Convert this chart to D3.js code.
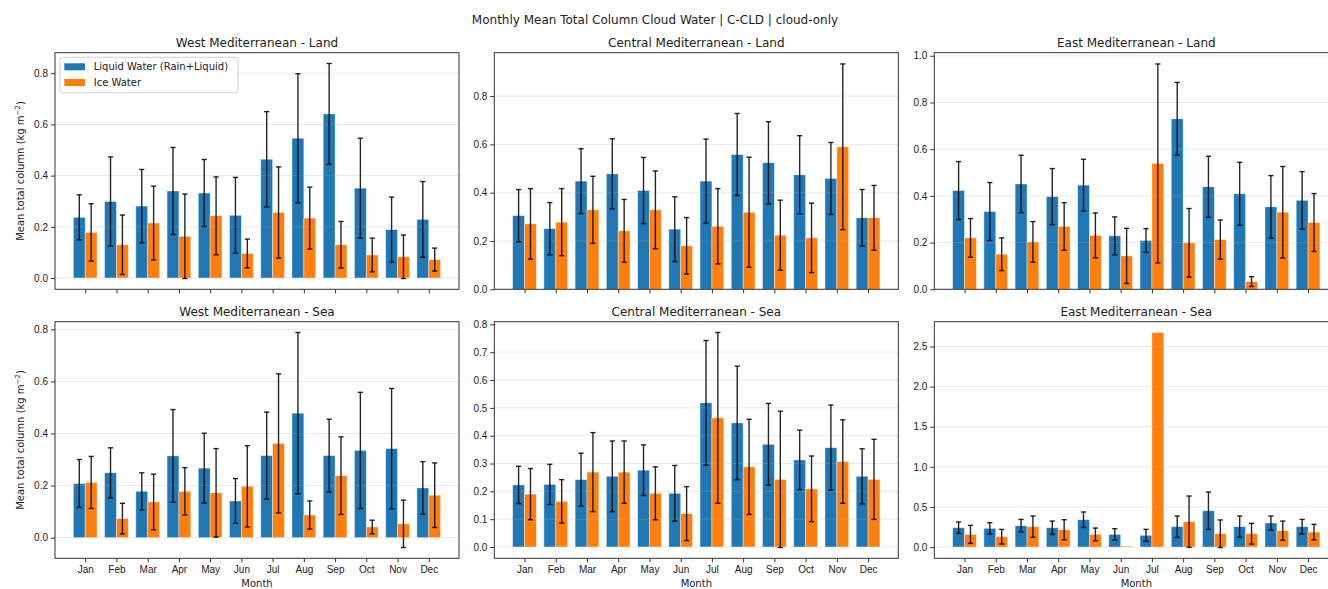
<!DOCTYPE html>
<html lang="en">
<head>
  <meta charset="UTF-8">
  <title>Monthly Mean Total Column Cloud Water</title>
  <script src="https://d3js.org/d3.v7.min.js"></script>
  <style>
    body { margin: 0; background: #fff; }
    svg { display: block; font-family: "DejaVu Sans", sans-serif; }
    .tick text { font-size: 10px; fill: #222; }
    .panel-title { font-size: 12px; fill: #222; }
  </style>
</head>
<body>
  <div id="chart"></div>

  <script>
    const months = ["Jan", "Feb", "Mar", "Apr", "May", "Jun", "Jul", "Aug", "Sep", "Oct", "Nov", "Dec"];
    const seriesNames = ["Liquid Water (Rain+Liquid)", "Ice Water"];

    // West Mediterranean - Land
    const westLandLiquid = [0.237, 0.299, 0.281, 0.340, 0.332, 0.245, 0.464, 0.546, 0.641, 0.351, 0.189, 0.229];
    const westLandLiquidErr = [0.088, 0.174, 0.143, 0.170, 0.131, 0.148, 0.186, 0.252, 0.197, 0.195, 0.127, 0.148];
    const westLandIce = [0.178, 0.130, 0.215, 0.163, 0.243, 0.096, 0.256, 0.234, 0.130, 0.090, 0.083, 0.072];
    const westLandIceErr = [0.112, 0.116, 0.144, 0.165, 0.152, 0.056, 0.178, 0.121, 0.091, 0.066, 0.085, 0.045];

    // Central Mediterranean - Land
    const centralLandLiquid = [0.305, 0.251, 0.448, 0.478, 0.409, 0.249, 0.448, 0.558, 0.524, 0.474, 0.459, 0.296];
    const centralLandLiquidErr = [0.108, 0.108, 0.134, 0.145, 0.137, 0.134, 0.174, 0.170, 0.170, 0.162, 0.149, 0.117];
    const centralLandIce = [0.271, 0.278, 0.329, 0.242, 0.329, 0.180, 0.261, 0.319, 0.224, 0.213, 0.590, 0.296];
    const centralLandIceErr = [0.146, 0.139, 0.139, 0.130, 0.161, 0.117, 0.156, 0.228, 0.145, 0.144, 0.343, 0.134];

    // East Mediterranean - Land
    const eastLandLiquid = [0.423, 0.333, 0.451, 0.397, 0.446, 0.229, 0.209, 0.730, 0.439, 0.409, 0.353, 0.381];
    const eastLandLiquidErr = [0.124, 0.124, 0.123, 0.120, 0.111, 0.081, 0.051, 0.156, 0.131, 0.135, 0.134, 0.123];
    const eastLandIce = [0.220, 0.150, 0.203, 0.269, 0.231, 0.143, 0.539, 0.199, 0.213, 0.033, 0.330, 0.286];
    const eastLandIceErr = [0.083, 0.070, 0.087, 0.102, 0.096, 0.118, 0.426, 0.147, 0.084, 0.021, 0.196, 0.124];

    // West Mediterranean - Sea
    const westSeaLiquid = [0.208, 0.249, 0.178, 0.314, 0.267, 0.141, 0.315, 0.478, 0.315, 0.335, 0.342, 0.191];
    const westSeaLiquidErr = [0.092, 0.096, 0.071, 0.178, 0.134, 0.086, 0.167, 0.310, 0.140, 0.223, 0.231, 0.101];
    const westSeaIce = [0.212, 0.073, 0.137, 0.178, 0.172, 0.197, 0.362, 0.087, 0.238, 0.041, 0.053, 0.163];
    const westSeaIceErr = [0.100, 0.059, 0.107, 0.091, 0.170, 0.156, 0.267, 0.054, 0.149, 0.026, 0.091, 0.124];

    // Central Mediterranean - Sea
    const centralSeaLiquid = [0.223, 0.225, 0.242, 0.254, 0.276, 0.193, 0.518, 0.446, 0.369, 0.313, 0.357, 0.254];
    const centralSeaLiquidErr = [0.067, 0.072, 0.095, 0.127, 0.091, 0.100, 0.224, 0.204, 0.147, 0.107, 0.153, 0.099];
    const centralSeaIce = [0.190, 0.164, 0.269, 0.269, 0.193, 0.120, 0.464, 0.288, 0.243, 0.209, 0.307, 0.243];
    const centralSeaIceErr = [0.092, 0.078, 0.142, 0.112, 0.095, 0.097, 0.307, 0.171, 0.245, 0.118, 0.150, 0.144];

    // East Mediterranean - Sea (no spread for Jun / Jul ice)
    const eastSeaLiquid = [0.241, 0.233, 0.266, 0.241, 0.341, 0.158, 0.146, 0.254, 0.453, 0.254, 0.300, 0.254];
    const eastSeaLiquidErr = [0.071, 0.071, 0.079, 0.083, 0.096, 0.071, 0.075, 0.133, 0.233, 0.133, 0.087, 0.091];
    const eastSeaIce = [0.158, 0.129, 0.254, 0.216, 0.158, 0.012, 2.675, 0.316, 0.166, 0.166, 0.204, 0.187];
    const eastSeaIceErr = [0.112, 0.091, 0.133, 0.125, 0.079, null, null, 0.320, 0.172, 0.129, 0.120, 0.096];

    // y tick labels per panel
    const ticksFine = [0, 0.1, 0.2, 0.3, 0.4, 0.5, 0.6, 0.7, 0.8];
    const ticks08 = [0, 0.2, 0.4, 0.6, 0.8];
    const ticks10 = [0, 0.2, 0.4, 0.6, 0.8, 1.0];
    const ticks25 = [0, 0.5, 1.0, 1.5, 2.0, 2.5];

    const panels = [
      { title: "West Mediterranean - Land", row: 0, col: 0, liq: westLandLiquid, liqErr: westLandLiquidErr, ice: westLandIce, iceErr: westLandIceErr, ticks: ticks08 },
      { title: "Central Mediterranean - Land", row: 0, col: 1, liq: centralLandLiquid, liqErr: centralLandLiquidErr, ice: centralLandIce, iceErr: centralLandIceErr, ticks: ticks08 },
      { title: "East Mediterranean - Land", row: 0, col: 2, liq: eastLandLiquid, liqErr: eastLandLiquidErr, ice: eastLandIce, iceErr: eastLandIceErr, ticks: ticks10 },
      { title: "West Mediterranean - Sea", row: 1, col: 0, liq: westSeaLiquid, liqErr: westSeaLiquidErr, ice: westSeaIce, iceErr: westSeaIceErr, ticks: ticks08 },
      { title: "Central Mediterranean - Sea", row: 1, col: 1, liq: centralSeaLiquid, liqErr: centralSeaLiquidErr, ice: centralSeaIce, iceErr: centralSeaIceErr, ticks: ticksFine },
      { title: "East Mediterranean - Sea", row: 1, col: 2, liq: eastSeaLiquid, liqErr: eastSeaLiquidErr, ice: eastSeaIce, iceErr: eastSeaIceErr, ticks: ticks25 }
    ];

    const width = 1328;
    const height = 589;
    const colLeft = [55, 494.3, 934.3];
    const rowTop = [52.7, 321.7];
    const axW = 404;
    const axH = 236.6;
    const barW = 0.38;
    const colors = ["#1f77b4", "#ff7f0e"];

    const svg = d3.select("#chart")
      .append("svg")
      .attr("width", width)
      .attr("height", height);

    svg.append("text")
      .attr("x", 655)
      .attr("y", 24)
      .attr("text-anchor", "middle")
      .attr("class", "panel-title")
      .text("Monthly Mean Total Column Cloud Water | C-CLD | cloud-only");

    // x scale: month index, padded like matplotlib autoscale
    const xLo = -barW, xHi = months.length - 1 + barW;
    const xPad = 0.05 * (xHi - xLo);

    panels.forEach(p => {
      const g = svg.append("g")
        .attr("transform", `translate(${colLeft[p.col]}, ${rowTop[p.row]})`);

      const x = d3.scaleLinear()
        .domain([xLo - xPad, xHi + xPad])
        .range([0, axW]);

      // y extent from bars and error bars; 0 is sticky unless data goes below it
      const ends = [0];
      [[p.liq, p.liqErr], [p.ice, p.iceErr]].forEach(([v, e]) => {
        v.forEach((d, i) => {
          ends.push(d);
          if (e[i] != null) { ends.push(d + e[i]); ends.push(d - e[i]); }
        });
      });
      const lo = d3.min(ends), hi = d3.max(ends);
      const pad = 0.05 * (hi - lo);
      const y = d3.scaleLinear()
        .domain([lo < 0 ? lo - pad : 0, hi + pad])
        .range([axH, 0]);

      // bars
      const series = [
        { vals: p.liq, errs: p.liqErr, off: -barW / 2, color: colors[0] },
        { vals: p.ice, errs: p.iceErr, off: barW / 2, color: colors[1] }
      ];

      series.forEach(s => {
        g.selectAll(null)
          .data(s.vals)
          .enter()
          .append("rect")
          .attr("x", (d, i) => x(i + s.off - barW / 2))
          .attr("width", x(barW) - x(0))
          .attr("y", d => y(Math.max(d, 0)))
          .attr("height", d => Math.abs(y(0) - y(d)))
          .attr("fill", s.color)
          .attr("stroke", "#fff")
          .attr("stroke-opacity", 0.5)
          .attr("stroke-width", 0.8);
      });

      // grid
      g.selectAll(null)
        .data(p.ticks)
        .enter()
        .append("line")
        .attr("x1", 0)
        .attr("x2", axW)
        .attr("y1", d => y(d))
        .attr("y2", d => y(d))
        .attr("stroke", "#b0b0b0")
        .attr("stroke-opacity", 0.35)
        .attr("stroke-width", 0.8);

      // error bars
      series.forEach(s => {
        const pts = s.vals.map((d, i) => ({ i, d, e: s.errs[i] })).filter(o => o.e != null);
        const eb = g.selectAll(null)
          .data(pts)
          .enter()
          .append("g")
          .attr("stroke", "#000")
          .attr("stroke-opacity", 0.85)
          .attr("stroke-width", 1.4);
        eb.append("line")
          .attr("x1", o => x(o.i + s.off))
          .attr("x2", o => x(o.i + s.off))
          .attr("y1", o => y(o.d - o.e))
          .attr("y2", o => y(o.d + o.e));
        [-1, 1].forEach(sign => {
          eb.append("line")
            .attr("x1", o => x(o.i + s.off) - 2.6)
            .attr("x2", o => x(o.i + s.off) + 2.6)
            .attr("y1", o => y(o.d + sign * o.e))
            .attr("y2", o => y(o.d + sign * o.e));
        });
      });

      // frame
      g.append("rect")
        .attr("width", axW)
        .attr("height", axH)
        .attr("fill", "none")
        .attr("stroke", "#333")
        .attr("stroke-width", 1);

      // axes
      const yAxis = d3.axisLeft(y)
        .tickValues(p.ticks)
        .tickSize(4)
        .tickPadding(3)
        .tickFormat(d3.format(".1f"));
      g.append("g").call(yAxis)
        .call(a => a.select(".domain").remove())
        .call(a => a.selectAll(".tick line").attr("stroke", "#333"));

      const xAxis = d3.axisBottom(x)
        .tickValues(d3.range(months.length))
        .tickSize(4)
        .tickPadding(4)
        .tickFormat(i => p.row === 1 ? months[i] : "");
      g.append("g")
        .attr("transform", `translate(0, ${axH})`)
        .call(xAxis)
        .call(a => a.select(".domain").remove())
        .call(a => a.selectAll(".tick line").attr("stroke", "#333"));

      // title
      g.append("text")
        .attr("class", "panel-title")
        .attr("x", axW / 2)
        .attr("y", -6)
        .attr("text-anchor", "middle")
        .text(p.title);

      if (p.row === 1) {
        g.append("text")
          .attr("x", axW / 2)
          .attr("y", axH + 29)
          .attr("text-anchor", "middle")
          .attr("font-size", 10)
          .attr("fill", "#222")
          .text("Month");
      }

      if (p.col === 0) {
        const lab = g.append("text")
          .attr("transform", `translate(-31, ${axH / 2}) rotate(-90)`)
          .attr("text-anchor", "middle")
          .attr("font-size", 10)
          .attr("fill", "#222");
        lab.append("tspan").text("Mean total column (kg m");
        lab.append("tspan").attr("font-size", 7).attr("dy", -4).text("\u22122");
        lab.append("tspan").attr("dy", 4).text(")");
      }

      // legend in first panel
      if (p.row === 0 && p.col === 0) {
        const lg = g.append("g").attr("transform", "translate(5, 4.6)");
        lg.append("rect")
          .attr("width", 178)
          .attr("height", 35.4)
          .attr("rx", 2.5)
          .attr("fill", "#fff")
          .attr("fill-opacity", 0.8)
          .attr("stroke", "#d0d0d0");
        seriesNames.forEach((name, i) => {
          lg.append("rect")
            .attr("x", 4.3)
            .attr("y", 6 + i * 15.7)
            .attr("width", 20.7)
            .attr("height", 7)
            .attr("fill", colors[i]);
          lg.append("text")
            .attr("x", 33.7)
            .attr("y", 13.2 + i * 15.7)
            .attr("font-size", 10)
            .attr("fill", "#222")
            .text(name);
        });
      }
    });
  </script>
</body>
</html>
